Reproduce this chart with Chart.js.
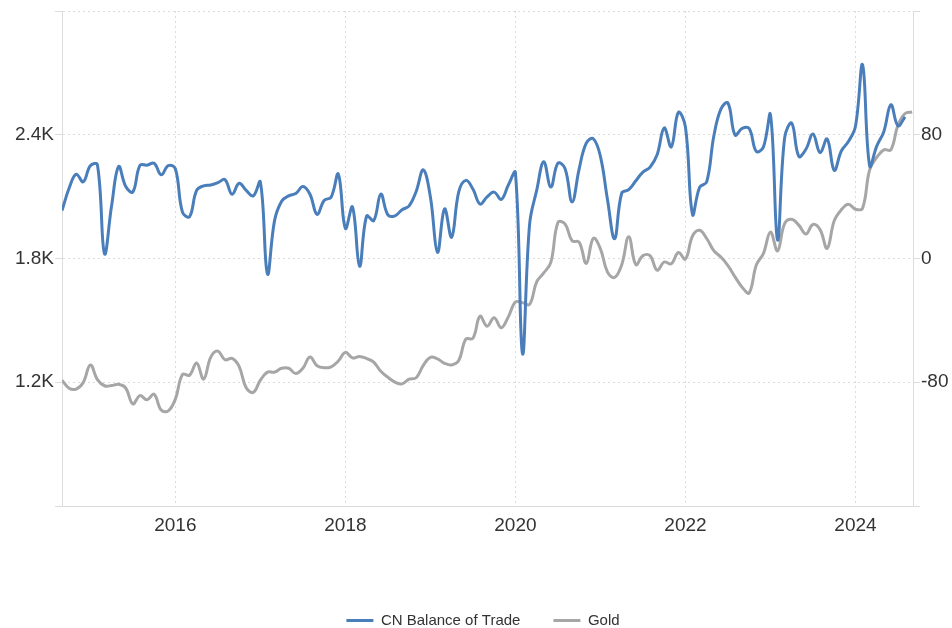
<!DOCTYPE html>
<html>
<head>
<meta charset="utf-8">
<script src="https://cdn.jsdelivr.net/npm/chart.js@4.4.1/dist/chart.umd.min.js"></script>
<style>
  html, body { margin: 0; padding: 0; background: #fff; }
  #wrap { width: 952px; height: 628px; }
</style>
</head>
<body>
<div id="wrap"><canvas id="chart" width="952" height="628"></canvas></div>
<script>
// monthly series, first point is Sep 2014
const startYear = 2014;
const startMonth = 9;

// CN balance of trade, USD billion (Sep 2014 - Aug 2024)
const tradeBalance = [
  31.0, 45.4, 54.5, 49.6,
  60.0, 60.6, 3.1, 34.1, 59.5, 46.5, 43.0, 60.2, 60.3, 61.6, 54.1, 60.1,
  58.0, 30.0, 27.0, 44.0, 47.0, 47.5, 49.0, 51.0, 41.5, 48.6, 44.0, 40.5,
  49.5, -10.0, 24.5, 37.0, 40.5, 42.0, 46.5, 41.5, 28.5, 37.5, 39.8, 54.6,
  19.5, 33.3, -5.0, 27.5, 24.5, 41.6, 28.2, 27.6, 31.5, 34.0, 43.5, 57.3,
  39.8, 4.0, 32.1, 13.7, 43.0, 50.5, 44.9, 35.2, 39.8, 42.9, 38.2, 47.5,
  55.5, -61.5, 22.0, 44.0, 62.5, 46.2, 61.6, 58.2, 36.6, 58.0, 74.6, 77.4,
  66.0, 38.0, 12.8, 42.2, 44.5, 50.3, 55.8, 59.0, 67.0, 84.4, 72.1, 94.5,
  85.0, 28.5, 46.0, 49.5, 79.0, 96.6, 100.5, 79.8, 84.1, 84.0, 69.2, 72.0,
  93.0, 12.0, 78.0, 87.5, 66.0, 70.6, 80.5, 68.4, 77.3, 57.0, 69.5, 75.6,
  85.5, 125.2, 59.8, 72.6, 82.0, 99.4, 85.8, 91.6
];

// Gold, USD/t.oz month end (Sep 2014 - Sep 2024)
const goldPrice = [
  1210, 1171, 1167, 1199,
  1284, 1213, 1183, 1184, 1190, 1172, 1095, 1135, 1115, 1142, 1065, 1061,
  1118, 1238, 1234, 1293, 1215, 1322, 1351, 1309, 1316, 1277, 1173, 1151,
  1210, 1249, 1249, 1268, 1268, 1242, 1268, 1322, 1280, 1270, 1275, 1303,
  1345, 1318, 1325, 1315, 1298, 1253, 1224, 1201, 1192, 1215, 1222, 1282,
  1321, 1313, 1292, 1284, 1305, 1409, 1413, 1520, 1472, 1513, 1464, 1517,
  1589, 1586, 1577, 1687, 1730, 1781, 1975, 1968, 1886, 1879, 1776, 1898,
  1847, 1734, 1708, 1769, 1906, 1770, 1814, 1814, 1743, 1783, 1774, 1829,
  1797, 1909, 1937, 1897, 1838, 1807, 1766, 1711, 1661, 1633, 1768, 1824,
  1928, 1837, 1969, 1990, 1962, 1919, 1965, 1940, 1849, 1983, 2036, 2063,
  2039, 2044, 2230, 2290, 2327, 2327, 2447, 2503, 2510
];

const yearTicks = [2016, 2018, 2020, 2022, 2024];
const goldTicks = [1200, 1800, 2400];
const goldTickLabels = ["1.2K", "1.8K", "2.4K"];
const tradeTicks = [-80, 0, 80];

const monthX = (i) => startYear + (startMonth - 1 + i) / 12;
const toPoints = (values) => values.map((v, i) => ({ x: monthX(i), y: v }));

const FONT = "'Liberation Sans', Arial, sans-serif";
const GRID = "#dcdcdc";

const chart = new Chart(document.getElementById("chart"), {
  type: "line",
  data: {
    datasets: [
      {
        label: "CN Balance of Trade",
        data: toPoints(tradeBalance),
        yAxisID: "y1",
        borderColor: "#4a7ebb",
        backgroundColor: "#4a7ebb",
        borderWidth: 3,
        pointRadius: 0,
        tension: 0.4,
      },
      {
        label: "Gold",
        data: toPoints(goldPrice),
        yAxisID: "y",
        borderColor: "#a6a6a6",
        backgroundColor: "#a6a6a6",
        borderWidth: 3,
        pointRadius: 0,
        tension: 0.4,
      },
    ],
  },
  options: {
    responsive: false,
    animation: false,
    devicePixelRatio: 1,
    layout: { padding: { top: 11, left: 14, right: 0, bottom: -10 } },
    plugins: {
      tooltip: { enabled: false },
      legend: {
        position: "bottom",
        labels: {
          usePointStyle: true,
          pointStyle: "line",
          pointStyleWidth: 27,
          padding: 33,
          color: "#333",
          font: { family: FONT, size: 15 },
        },
      },
    },
    scales: {
      x: {
        type: "linear",
        min: monthX(0),
        max: monthX(120) + 0.01,
        afterBuildTicks: (scale) => {
          scale.ticks = yearTicks.map((v) => ({ value: v }));
        },
        afterFit: (scale) => {
          scale.height = 74;
          scale.paddingLeft = 0;
          scale.paddingRight = 0;
        },
        ticks: {
          callback: (v) => String(v),
          color: "#333",
          padding: 8,
          maxRotation: 0,
          font: { family: FONT, size: 19 },
        },
        grid: { color: GRID, drawTicks: false },
        border: { display: true, color: GRID, dash: [2, 3] },
      },
      y: {
        position: "left",
        min: 600,
        max: 3000,
        afterBuildTicks: (scale) => {
          scale.ticks = [600, ...goldTicks, 3000].map((v) => ({ value: v }));
        },
        afterFit: (scale) => {
          scale.width = 48;
          scale.paddingTop = 0;
          scale.paddingBottom = 0;
        },
        ticks: {
          callback: (v) => {
            const k = goldTicks.indexOf(v);
            return k >= 0 ? goldTickLabels[k] : "";
          },
          color: "#333",
          padding: 1,
          font: { family: FONT, size: 19 },
        },
        grid: { color: GRID, tickLength: 7 },
        border: { display: true, color: GRID, dash: [2, 3] },
      },
      y1: {
        position: "right",
        min: -160,
        max: 160,
        afterBuildTicks: (scale) => {
          scale.ticks = [-160, ...tradeTicks, 160].map((v) => ({ value: v }));
        },
        afterFit: (scale) => {
          scale.width = 39;
          scale.paddingTop = 0;
          scale.paddingBottom = 0;
        },
        ticks: {
          callback: (v) => (tradeTicks.includes(v) ? String(v) : ""),
          color: "#333",
          padding: 1,
          font: { family: FONT, size: 19 },
        },
        grid: { color: GRID, tickLength: 7, drawOnChartArea: false },
        border: { display: true, color: GRID },
      },
    },
  },
});
</script>
</body>
</html>
